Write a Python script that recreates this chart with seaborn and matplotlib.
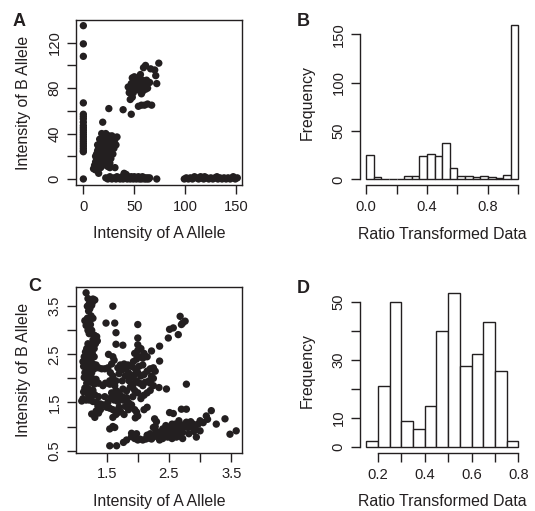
import matplotlib
matplotlib.use("Agg")
import matplotlib.pyplot as plt
import seaborn as sns
import pandas as pd

# Panel A: raw intensities (A allele, B allele)
a_points = [
    # x = 0 column
    (0, 135), (0, 119), (0, 108), (0, 67), (0, 57), (0, 55), (0, 53), (0, 50), (0, 47),
    (0, 45), (0, 43), (0, 41), (0, 39), (0, 37), (0, 35), (0, 33), (0, 31), (0, 29),
    (0, 27), (0, 25), (0, 24), (0, 0),
    # cluster near origin
    (10, 9), (12, 15), (13, 18), (13, 22), (14, 14), (14, 25), (15, 12), (15, 20), (15, 28),
    (16, 16), (16, 22), (16, 30), (17, 10), (17, 18), (17, 25), (17, 33), (18, 14), (18, 20),
    (18, 27), (18, 35), (19, 12), (19, 17), (19, 23), (19, 30), (20, 15), (20, 20), (20, 26),
    (20, 33), (20, 38), (21, 13), (21, 18), (21, 24), (21, 29), (21, 36), (22, 16), (22, 21),
    (22, 27), (22, 32), (23, 14), (23, 19), (23, 25), (23, 30), (23, 37), (24, 17), (24, 22),
    (24, 28), (24, 34), (25, 20), (25, 26), (25, 31), (25, 38), (26, 23), (26, 29), (26, 35),
    (27, 25), (27, 32), (28, 28), (28, 34), (29, 30), (30, 33), (33, 37), (25, 62), (19, 50),
    (15, 5), (12, 8), (26, 10), (31, 10), (18, 40), (22, 40), (14, 30), (16, 35), (12, 20),
    (24, 11), (27, 18), (29, 22), (30, 27), (31, 35), (26, 14), (11, 12), (13, 10), (28, 38),
    (32, 30), (27, 36), (29, 34),
    # upper cluster
    (74, 102), (70, 96), (71, 91), (66, 97), (61, 100), (59, 98), (56, 92), (50, 90), (52, 88),
    (48, 89), (55, 86), (58, 87), (62, 87), (65, 85), (47, 84), (50, 82), (53, 83), (57, 82),
    (60, 81), (63, 80), (44, 81), (48, 80), (52, 79), (55, 78), (58, 77), (61, 79), (46, 78),
    (49, 76), (57, 75), (48, 72), (46, 70), (72, 84), (54, 64), (57, 65), (60, 65), (67, 65),
    (63, 66), (39, 61), (47, 57), (53, 85), (51, 80), (59, 83), (62, 84), (45, 76),
    # bottom strip, B ~ 0
    (22, 1), (24, 0), (26, 2), (28, 0), (30, 1), (32, 0), (33, 2), (35, 1), (36, 0), (38, 2),
    (39, 0), (40, 5), (41, 1), (42, 4), (43, 0), (44, 2), (45, 1), (46, 0), (47, 2), (48, 1),
    (49, 0), (50, 2), (51, 1), (52, 0), (53, 1), (54, 2), (55, 0), (56, 1), (57, 0), (58, 2),
    (59, 1), (60, 0), (61, 1), (62, 0), (63, 1), (64, 0), (65, 1), (72, 0),
    (99, 0), (101, 1), (103, 0), (105, 1), (107, 0), (109, 2), (111, 1), (113, 0), (115, 2),
    (116, 1), (118, 0), (119, 2), (121, 1), (123, 0), (125, 1), (127, 0), (129, 1), (131, 2),
    (132, 0), (134, 1), (136, 0), (138, 1), (140, 0), (142, 1), (144, 0), (146, 1), (147, 2),
    (149, 0), (151, 1),
]

# Panel B: ratio histogram, bin edges and counts
b_edges = [i * 0.05 for i in range(21)]
b_counts = [25, 2, 0, 0, 0, 3, 3, 24, 26, 24, 38, 12, 3, 3, 2, 3, 2, 1, 4, 160]

# Panel C: transformed intensities
c_points = [
    # left band
    (1.17, 3.78), (1.2, 3.66), (1.24, 3.62), (1.28, 3.65), (1.31, 3.63), (1.22, 3.55), (1.27, 3.58),
    (1.19, 3.5), (1.23, 3.45), (1.26, 3.52), (1.21, 3.4), (1.25, 3.3), (1.19, 3.25), (1.15, 3.2),
    (1.22, 3.2), (1.28, 3.25), (1.17, 3.1), (1.24, 3.12), (1.2, 3.0), (1.26, 3.0), (1.22, 2.93),
    (1.3, 2.9), (1.34, 2.87), (1.35, 2.78), (1.28, 2.8), (1.32, 2.72), (1.2, 2.72), (1.25, 2.7),
    (1.18, 2.62), (1.23, 2.6), (1.3, 2.62), (1.16, 2.55), (1.21, 2.5), (1.27, 2.52), (1.14, 2.45),
    (1.19, 2.42), (1.25, 2.4), (1.3, 2.45), (1.12, 2.35), (1.17, 2.32), (1.22, 2.3), (1.28, 2.3),
    (1.33, 2.28), (1.13, 2.25), (1.18, 2.2), (1.24, 2.22), (1.3, 2.2), (1.37, 2.22), (1.42, 2.2),
    (1.47, 2.2), (1.52, 2.22), (1.15, 2.12), (1.2, 2.1), (1.26, 2.12), (1.14, 2.02), (1.2, 2.0),
    (1.27, 2.0), (1.33, 1.98), (1.18, 1.9), (1.24, 1.92), (1.3, 1.88), (1.37, 1.9), (1.15, 1.8),
    (1.21, 1.78), (1.28, 1.75), (1.13, 1.72), (1.2, 1.68), (1.26, 1.64), (1.31, 1.66), (1.37, 1.62),
    (1.12, 1.58), (1.17, 1.55), (1.22, 1.55), (1.28, 1.52), (1.34, 1.5), (1.4, 1.47), (1.1, 1.53),
    (1.36, 1.42), (1.4, 1.35), (1.33, 1.32), (1.26, 1.26), (1.31, 1.19), (1.37, 1.28),
    # middle cloud and upward arm
    (1.45, 1.45), (1.5, 1.4), (1.55, 1.38), (1.6, 1.35), (1.66, 1.32), (1.7, 1.3), (1.72, 1.32),
    (1.52, 1.5), (1.57, 1.6), (1.63, 1.62), (1.58, 1.7), (1.47, 1.62), (1.44, 1.85), (1.48, 1.9),
    (1.55, 1.95), (1.55, 1.88), (1.65, 1.75), (1.7, 1.7), (1.76, 1.78), (1.82, 1.74), (1.7, 1.65),
    (1.75, 1.62), (1.62, 1.55), (1.68, 1.52), (1.76, 1.55), (1.82, 1.6), (1.85, 1.5), (1.8, 1.42),
    (1.9, 1.45), (1.78, 1.25), (1.95, 1.35), (1.98, 1.3), (2.0, 1.22), (1.96, 1.18), (2.1, 1.35),
    (2.15, 1.4), (2.05, 1.58), (2.1, 1.65), (2.15, 1.7), (2.2, 1.75), (2.0, 1.7), (1.92, 1.62),
    (1.95, 1.75), (1.88, 1.82), (1.93, 1.88), (1.98, 1.95), (2.03, 1.9), (2.08, 1.85), (2.12, 1.92),
    (2.18, 1.95), (2.22, 2.05), (1.86, 1.95), (1.9, 2.02), (1.95, 2.08), (2.0, 2.12), (2.05, 2.05),
    (2.1, 2.08), (2.15, 2.15), (2.2, 2.2), (2.25, 2.22), (2.28, 2.15), (1.85, 2.12), (1.8, 2.2),
    (1.75, 2.18), (1.7, 2.1), (1.68, 2.22), (1.72, 2.28), (1.78, 2.3), (1.84, 2.28), (1.9, 2.25),
    (1.96, 2.2), (2.02, 2.25), (2.08, 2.28), (1.93, 2.35), (1.98, 2.4), (2.03, 2.45), (2.08, 2.42),
    (1.95, 2.52), (2.0, 2.58), (2.05, 2.62), (2.1, 2.52), (2.15, 2.45), (1.6, 2.45), (1.53, 2.5),
    (1.65, 2.71), (1.76, 2.69), (1.62, 2.38), (1.58, 2.3), (1.56, 2.12), (1.6, 2.05), (1.65, 1.95),
    (1.63, 1.85), (1.75, 1.95), (1.8, 2.05), (2.0, 2.7), (2.0, 2.84), (2.0, 3.12), (1.6, 3.5),
    (1.49, 3.15), (1.63, 3.15), (1.65, 2.95), (2.22, 2.57), (2.35, 2.67), (2.35, 2.36), (2.49, 2.84),
    (2.51, 3.02), (2.57, 3.05), (2.65, 2.91), (2.7, 3.12), (2.68, 3.29), (2.76, 3.19), (2.72, 3.15),
    (2.78, 1.88), (2.46, 1.78), (2.34, 1.81), (2.2, 1.9), (2.25, 1.85), (2.25, 2.0), (1.65, 1.25),
    (1.7, 1.4), (1.85, 1.35),
    # lower left
    (1.55, 0.6), (1.66, 0.6), (1.6, 1.19), (1.63, 0.98), (1.55, 0.95), (1.6, 1.0),
    # lower arm
    (1.77, 0.67), (1.82, 0.72), (1.9, 0.79), (1.95, 0.75), (1.9, 0.86), (2.0, 0.72), (2.03, 0.74),
    (2.08, 0.72), (2.13, 0.74), (2.18, 0.76), (2.22, 0.74), (2.25, 0.78), (2.2, 0.85), (2.28, 0.82),
    (2.32, 0.8), (2.35, 0.84), (2.3, 0.9), (2.38, 0.88), (2.42, 0.85), (2.46, 0.91), (2.5, 0.88),
    (2.44, 0.95), (2.52, 0.95), (2.55, 0.85), (2.57, 0.98), (2.6, 0.92), (2.62, 0.88), (2.64, 1.0),
    (2.68, 1.05), (2.7, 0.95), (2.72, 0.88), (2.75, 1.02), (2.78, 1.09), (2.8, 0.98), (2.84, 1.0),
    (2.89, 1.05), (2.92, 0.98), (2.94, 0.78), (2.97, 1.05), (3.0, 1.12), (3.0, 0.91), (3.05, 1.08),
    (3.1, 1.22), (3.12, 1.15), (3.18, 1.33), (3.26, 1.05), (3.4, 1.16), (3.48, 0.84), (3.58, 0.91),
    (2.7, 1.36), (2.78, 1.36), (2.51, 1.29), (2.57, 1.27), (2.27, 1.16), (2.25, 0.98), (2.4, 0.75),
    (2.48, 0.78), (2.55, 0.75), (2.62, 0.78), (2.68, 0.8), (2.72, 0.75), (2.35, 0.72), (2.15, 0.82),
    (2.28, 1.0), (2.3, 1.1), (2.45, 1.02), (2.6, 1.05), (2.66, 1.12), (2.85, 1.1), (2.9, 0.9),
    (2.82, 0.85), (2.55, 1.05), (2.4, 0.95), (1.98, 0.85),
]

# Panel D: ratio histogram of transformed data
d_edges = [0.15 + i * 0.05 for i in range(14)]
d_counts = [2, 21, 50, 9, 6, 14, 40, 53, 28, 32, 43, 26, 2]

df_a = pd.DataFrame(a_points, columns=["A", "B"])
df_c = pd.DataFrame(c_points, columns=["A", "B"])
b_mid = [(b_edges[i] + b_edges[i + 1]) / 2 for i in range(len(b_counts))]
d_mid = [(d_edges[i] + d_edges[i + 1]) / 2 for i in range(len(d_counts))]

sns.set_style("ticks")
plt.rcParams["font.family"] = ["Liberation Sans", "DejaVu Sans"]
ink = "#231f20"
plt.rcParams["text.color"] = ink
plt.rcParams["axes.labelcolor"] = ink
plt.rcParams["xtick.color"] = ink
plt.rcParams["ytick.color"] = ink

W, H = 535, 511
fig = plt.figure(figsize=(W / 100, H / 100), dpi=100)


def box(l, t, r, b):
    return [l / W, 1 - b / H, (r - l) / W, (b - t) / H]


ax_a = fig.add_axes(box(76, 20, 242, 185))
ax_b = fig.add_axes(box(360, 18.5, 524.5, 185.5))
ax_c = fig.add_axes(box(76, 287, 242, 452.5))
ax_d = fig.add_axes(box(360, 287, 524.5, 453))

tick_fs = 10.6
lab_fs = 11.4


def style(ax, boxed):
    for s in ax.spines.values():
        s.set_linewidth(1.0)
        s.set_color(ink)
    if not boxed:
        ax.spines["top"].set_visible(False)
        ax.spines["right"].set_visible(False)
    ax.tick_params(length=6.5, width=1.0, color=ink, labelsize=tick_fs, pad=4)
    for lbl in ax.get_yticklabels():
        lbl.set_rotation(90)
        lbl.set_va("center")
    ax.xaxis.labelpad = 9
    ax.yaxis.labelpad = 12


# A
sns.scatterplot(data=df_a, x="A", y="B", ax=ax_a, color=ink, s=28, edgecolor="none", linewidth=0)
ax_a.set_xlim(-7.2, 155.6)
ax_a.set_ylim(-5.3, 140)
ax_a.set_xticks([0, 50, 100, 150])
ax_a.set_yticks([0, 20, 40, 60, 80, 100, 120])
ax_a.set_yticklabels(["0", "", "40", "", "80", "", "120"])
ax_a.set_xlabel("Intensity of A Allele", fontsize=lab_fs)
ax_a.set_ylabel("Intensity of B Allele", fontsize=lab_fs)
style(ax_a, True)

# B
sns.histplot(x=b_mid, weights=b_counts, bins=b_edges, ax=ax_b, color="white",
             edgecolor=ink, linewidth=1.0, alpha=1)
ax_b.set_xlim(-0.04, 1.04)
ax_b.set_ylim(-6.4, 166.4)
ax_b.set_xticks([0, 0.2, 0.4, 0.6, 0.8, 1.0])
ax_b.set_xticklabels(["0.0", "", "0.4", "", "0.8", ""])
ax_b.set_yticks([0, 50, 100, 150])
ax_b.spines["bottom"].set_bounds(0, 1)
ax_b.spines["left"].set_bounds(0, 150)
ax_b.set_xlabel("Ratio Transformed Data", fontsize=lab_fs)
ax_b.set_ylabel("Frequency", fontsize=lab_fs)
style(ax_b, False)

# C
sns.scatterplot(data=df_c, x="A", y="B", ax=ax_c, color=ink, s=28, edgecolor="none", linewidth=0)
ax_c.set_xlim(1.008, 3.673)
ax_c.set_ylim(0.46, 3.9)
ax_c.set_xticks([1.5, 2.0, 2.5, 3.0, 3.5])
ax_c.set_xticklabels(["1.5", "", "2.5", "", "3.5"])
ax_c.set_yticks([0.5, 1.0, 1.5, 2.0, 2.5, 3.0, 3.5])
ax_c.set_yticklabels(["0.5", "", "1.5", "", "2.5", "", "3.5"])
ax_c.set_xlabel("Intensity of A Allele", fontsize=lab_fs)
ax_c.set_ylabel("Intensity of B Allele", fontsize=lab_fs)
style(ax_c, True)

# D
sns.histplot(x=d_mid, weights=d_counts, bins=d_edges, ax=ax_d, color="white",
             edgecolor=ink, linewidth=1.0, alpha=1)
ax_d.set_xlim(0.124, 0.826)
ax_d.set_ylim(-2.12, 55.12)
ax_d.set_xticks([0.2, 0.3, 0.4, 0.5, 0.6, 0.7, 0.8])
ax_d.set_xticklabels(["0.2", "", "0.4", "", "0.6", "", "0.8"])
ax_d.set_yticks([0, 10, 20, 30, 40, 50])
ax_d.set_yticklabels(["0", "10", "", "30", "", "50"])
ax_d.spines["bottom"].set_bounds(0.2, 0.8)
ax_d.spines["left"].set_bounds(0, 50)
ax_d.set_xlabel("Ratio Transformed Data", fontsize=lab_fs)
ax_d.set_ylabel("Frequency", fontsize=lab_fs)
style(ax_d, False)

# panel letters
for letter, x, y in [("A", 19, 21.5), ("B", 303.5, 21.5), ("C", 35, 286.5), ("D", 303.5, 288.5)]:
    fig.text(x / W, 1 - y / H, letter, fontsize=13, fontweight="bold", ha="center", va="center")

fig.savefig("out.png", dpi=100)
